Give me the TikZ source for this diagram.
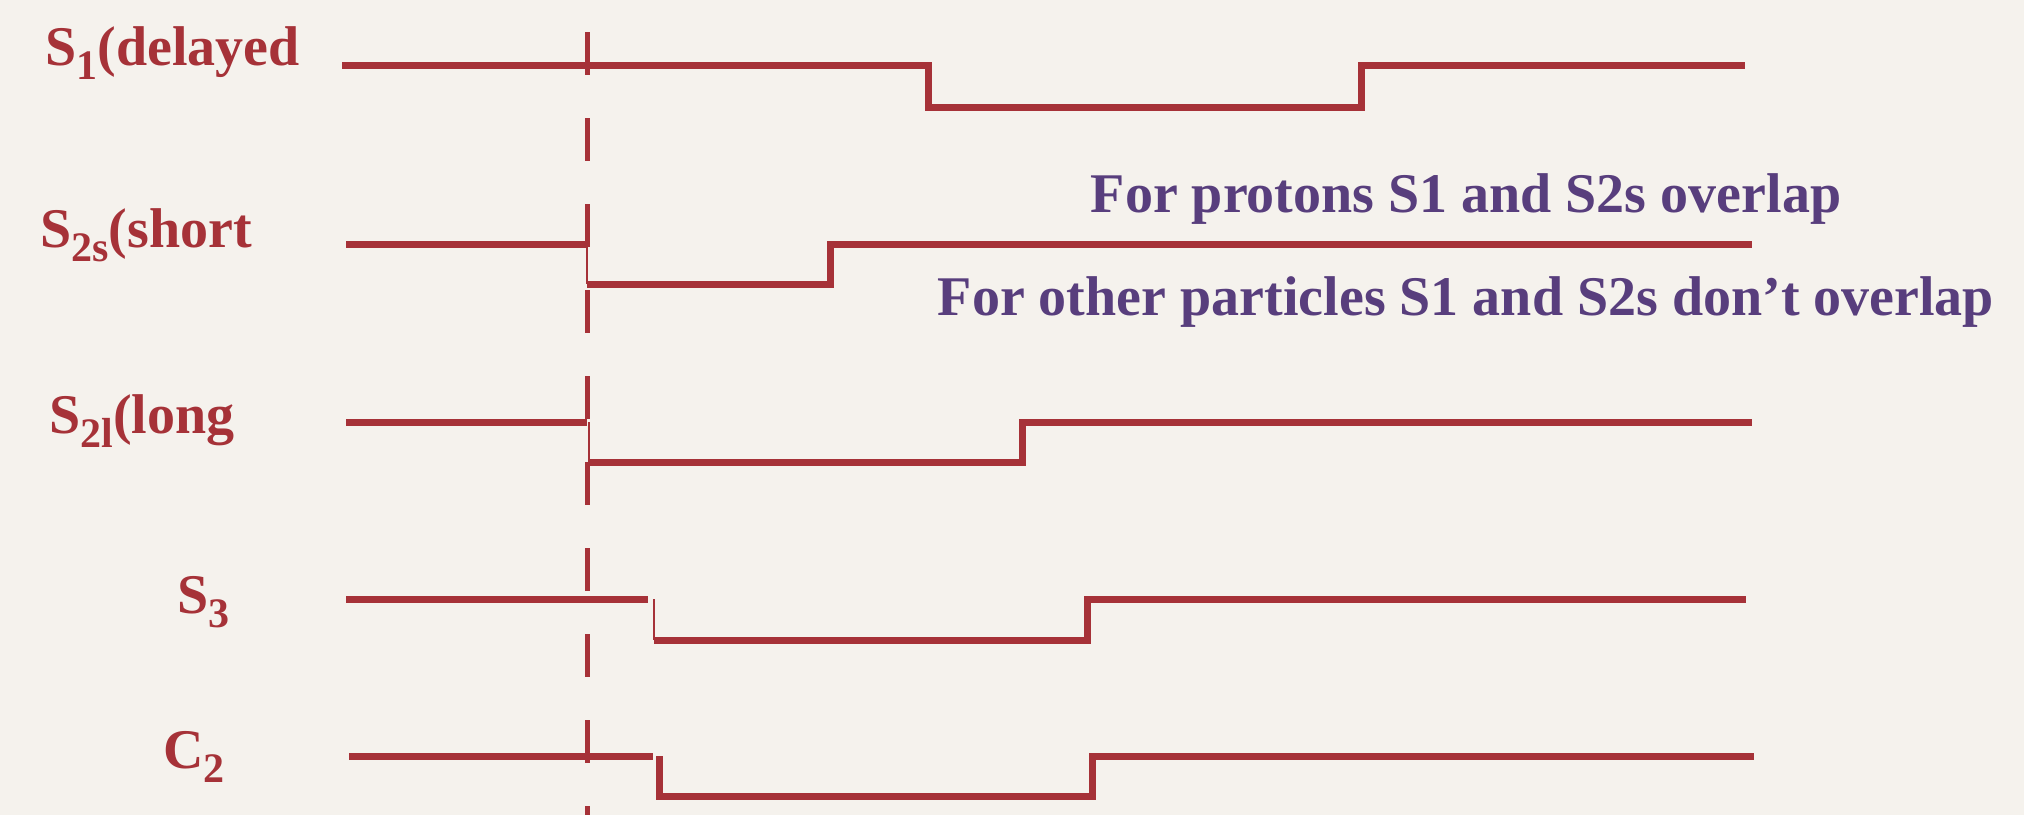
\documentclass[tikz,border=0pt]{standalone}
\usepackage{fontspec}
\setmainfont{Liberation Serif}
\definecolor{sigred}{RGB}{166,50,56}
\definecolor{notepurple}{RGB}{88,62,125}
\definecolor{paper}{RGB}{245,242,237}
\newcommand{\sigsub}[1]{\raisebox{-7pt}{\fontsize{21}{24}\selectfont #1}}

\begin{document}
\begin{tikzpicture}[
	x = 0.5pt, y = -0.5pt,
	signal/.style = {draw = sigred, line width = 3.5pt, line join = miter},
	slope/.style = {draw = sigred, line width = 1pt},
	cutline/.style = {draw = sigred, line width = 2.5pt, dash pattern = on 21.5pt off 21.5pt},
	siglabel/.style = {anchor = base west, text = sigred, inner sep = 0pt, font = \fontsize{28}{32}\selectfont\bfseries},
	remark/.style = {anchor = base, text = notepurple, inner sep = 0pt, font = \fontsize{28}{32}\selectfont\bfseries}
	]
	\fill[paper] (0,0) rectangle (2024,815);
	\useasboundingbox (0,0) rectangle (2024,815);

	\node[siglabel] (s1) at (45,65) {S\sigsub{1}(delayed};
	\node[siglabel] (s2s) at (40,247) {S\sigsub{2s}(short};
	\node[siglabel] (s2l) at (49,433) {S\sigsub{2l}(long};
	\node[siglabel] (s3) at (177,613) {S\sigsub{3}};
	\node[siglabel] (c2) at (163,768) {C\sigsub{2}};

	\node[remark] (protons) at (1466,212) {For protons S1 and S2s overlap};
	\node[remark] (others) at (1466,315) {For other particles S1 and S2s don’t overlap};

	% trigger
	\draw[cutline] (587,32) -- (587,815);

	% S1
	\draw[signal] (342,65) -- (928,65) -- (928,107) -- (1361,107) -- (1361,65) -- (1745,65);
	% S2s
	\draw[signal] (346,244) -- (587,244);
	\draw[slope] (587,244) -- (587,284);
	\draw[signal] (587,284) -- (830,284) -- (830,244) -- (1752,244);
	% S2l
	\draw[signal] (346,422) -- (587,422);
	\draw[slope] (589,422) -- (589,462);
	\draw[signal] (589,462) -- (1022,462) -- (1022,422) -- (1752,422);
	% S3
	\draw[signal] (346,599) -- (648,599);
	\draw[slope] (654,599) -- (654,640);
	\draw[signal] (654,640) -- (1087,640) -- (1087,599) -- (1746,599);
	% C2
	\draw[signal] (349,756) -- (653,756);
	\draw[signal] (659,756) -- (659,796) -- (1092,796) -- (1092,756) -- (1754,756);
\end{tikzpicture}
\end{document}
